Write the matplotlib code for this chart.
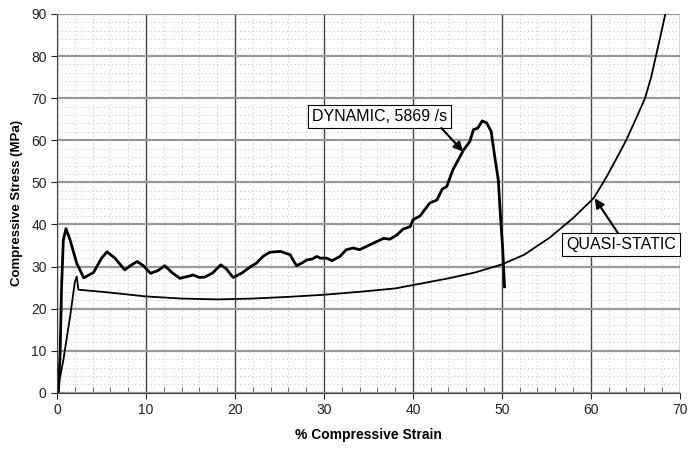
import matplotlib.pyplot as plt
from matplotlib.ticker import MultipleLocator

plt.rcParams['font.family'] = ['Liberation Sans', 'DejaVu Sans']

# Curva dinamica (5869 /s)
dyn_strain = [0, 0.15, 0.34, 0.5, 0.7, 1.0, 1.46, 2.2, 3.0, 4.1, 5.0, 5.6, 6.5, 7.6,
              8.3, 9.0, 9.7, 10.5, 11.3, 12.1, 12.9, 13.8, 14.6, 15.3, 16.0, 16.6,
              17.5, 18.4, 19.0, 19.8, 20.8, 21.7, 22.4, 23.2, 23.9, 25.1, 26.2, 26.9,
              27.5, 28.1, 28.7, 29.2, 29.6, 30.3, 30.9, 31.8, 32.5, 33.3, 34.0, 35.2,
              35.9, 36.7, 37.4, 38.2, 38.9, 39.7, 40.0, 40.8, 41.9, 42.7, 43.3, 43.8,
              44.5, 45.7, 46.4, 46.8, 47.3, 47.8, 48.3, 48.8, 49.2, 49.6, 49.8, 50.1, 50.3]
dyn_stress = [0, 0.3, 9.4, 25.0, 36.3, 39.0, 36.3, 30.8, 27.3, 28.6, 32.0, 33.5, 32.0, 29.2,
              30.3, 31.2, 30.2, 28.4, 29.0, 30.2, 28.6, 27.2, 27.6, 28.0, 27.4, 27.5,
              28.5, 30.4, 29.5, 27.4, 28.5, 29.9, 30.8, 32.5, 33.4, 33.6, 32.8, 30.2,
              30.8, 31.6, 31.8, 32.4, 32.0, 32.0, 31.4, 32.4, 34.0, 34.4, 34.0, 35.2,
              35.9, 36.7, 36.5, 37.5, 38.9, 39.5, 41.1, 42.0, 45.1, 45.8, 48.4, 49.0,
              53.0, 57.7, 59.7, 62.5, 62.9, 64.6, 64.1, 62.1, 56.1, 50.6, 43.5, 34.0, 25.2]

# Curva quasi-estatica
qs_strain = [0, 0.7, 1.46, 2.0, 2.2, 2.4, 4, 6, 10, 14, 18, 22, 26, 30, 34, 38, 41,
             44, 47, 50, 52.5, 55.4, 58, 60.3, 61.0, 61.8, 62.9, 64.0, 65.1, 66.1,
             66.8, 67.4, 67.9, 68.4]
qs_stress = [0, 7.8, 18.1, 26.4, 27.6, 24.5, 24.2, 23.8, 22.9, 22.4, 22.2, 22.4, 22.8,
             23.3, 24.0, 24.8, 26.0, 27.2, 28.6, 30.5, 32.8, 36.9, 41.5, 46.2, 48.6,
             51.4, 55.7, 60.1, 65.2, 70.0, 75.1, 80.7, 85.4, 90.2]

fig = plt.figure(figsize=(6.88, 4.5), dpi=100)
ax = fig.add_axes([0.083, 0.127, 0.905, 0.842])

ax.plot(dyn_strain, dyn_stress, color='black', lw=2.0, solid_joinstyle='round')
ax.plot(qs_strain, qs_stress, color='black', lw=1.3, solid_joinstyle='round')

# eixos
ax.set_xlim(0, 70)
ax.set_ylim(0, 90)
ax.xaxis.set_major_locator(MultipleLocator(10))
ax.xaxis.set_minor_locator(MultipleLocator(2))
ax.yaxis.set_major_locator(MultipleLocator(10))
ax.yaxis.set_minor_locator(MultipleLocator(2))
ax.tick_params(axis='both', which='major', labelsize=10, colors='#222222', length=4)
ax.tick_params(axis='x', which='minor', direction='in', length=4, color='#555555')
ax.tick_params(axis='y', which='minor', length=0)
ax.set_xlabel('% Compressive Strain', fontsize=10, fontweight='bold', labelpad=8)
ax.set_ylabel('Compressive Stress (MPa)', fontsize=9.5, fontweight='bold', labelpad=6)

# malha
ax.grid(which='minor', color='#c4c4c4', ls=(0, (1, 3)), lw=0.7)
ax.xaxis.grid(which='major', color='#444444', ls='-', lw=1.0)
ax.yaxis.grid(which='major', color='#999999', ls='-', lw=1.6)
ax.set_axisbelow(True)
for s in ['top', 'right']:
    ax.spines[s].set_visible(False)
for s in ['left', 'bottom']:
    ax.spines[s].set_color('#444444')

# anotacoes (texto e seta separados)
box = dict(boxstyle='square,pad=0.25', fc='white', ec='black', lw=0.8)
arrow = dict(arrowstyle='-|>', color='black', lw=1.5, mutation_scale=14, shrinkA=0, shrinkB=0)
ax.text(36.2, 65.6, 'DYNAMIC, 5869 /s', fontsize=11.5, ha='center', va='center', bbox=box)
ax.annotate('', xy=(45.65, 57.3), xytext=(43.2, 62.9), arrowprops=arrow)
ax.text(63.4, 35.2, 'QUASI-STATIC', fontsize=11.5, ha='center', va='center', bbox=box)
ax.annotate('', xy=(60.45, 46.2), xytext=(63.07, 37.9), arrowprops=arrow)

plt.savefig('out.png', dpi=100)
